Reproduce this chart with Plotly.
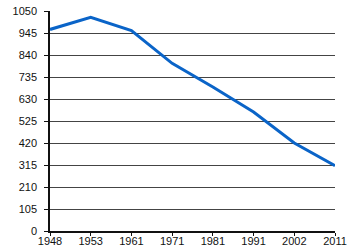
import plotly.graph_objects as go

years = ["1948", "1953", "1961", "1971", "1981", "1991", "2002", "2011"]
population = [962, 1020, 956, 800, 687, 568, 420, 312]
y_ticks = [0, 105, 210, 315, 420, 525, 630, 735, 840, 945, 1050]

fig = go.Figure()
fig.add_trace(go.Scatter(
    x=years, y=population, mode="lines",
    line=dict(color="#0a64c8", width=3),
    hoverinfo="skip",
))

fig.update_layout(
    width=350, height=250,
    margin=dict(l=50, r=15, t=11, b=19),
    paper_bgcolor="white", plot_bgcolor="white",
    showlegend=False,
    font=dict(family="Liberation Sans, Arial, sans-serif", size=11, color="#111"),
)
fig.update_xaxes(
    type="category", range=[0, 7], automargin=False,
    showline=True, linecolor="#111", linewidth=1.5,
    ticks="outside", ticklen=3, tickcolor="#111",
    showgrid=False, zeroline=False,
    tickfont=dict(size=11), ticklabelstandoff=-4,
)
fig.update_yaxes(
    range=[0, 1050], tickvals=y_ticks, automargin=False,
    showline=True, linecolor="#111", linewidth=1.5,
    ticks="outside", ticklen=4, tickcolor="#111",
    showgrid=True, gridcolor="#444", gridwidth=1,
    zeroline=False, tickfont=dict(size=11), ticklabelstandoff=5,
)

fig.write_html("out.html")
